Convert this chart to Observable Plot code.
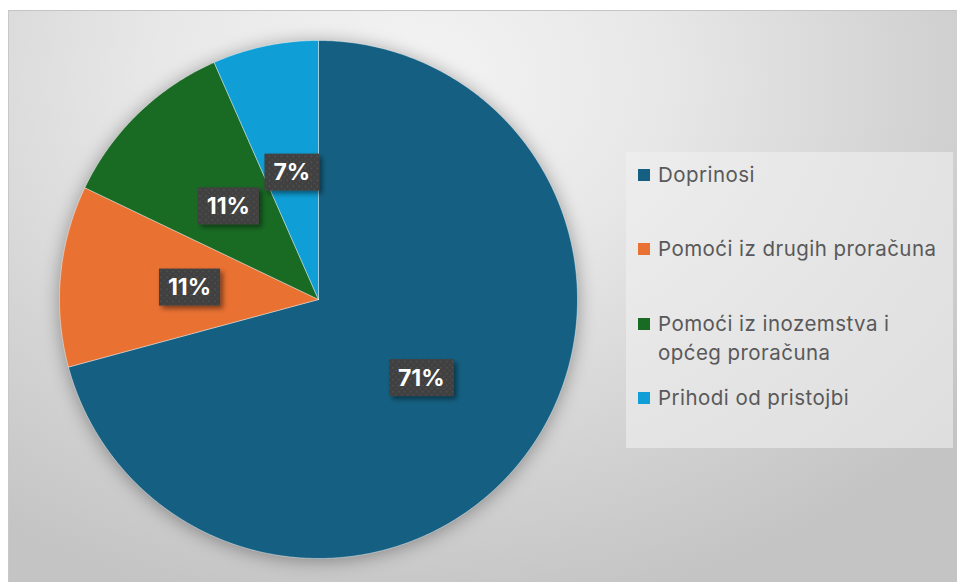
<!DOCTYPE html>
<html>
<head>
<meta charset="utf-8">
<script src="https://cdn.jsdelivr.net/npm/d3@7"></script>
<script src="https://cdn.jsdelivr.net/npm/@observablehq/plot@0.6"></script>
<style>
  html, body { margin: 0; padding: 0; background: #ffffff; width: 957px; height: 582px; overflow: hidden; }
  #frame {
    position: absolute; left: 8px; top: 10px; width: 949px; height: 572px;
    background: radial-gradient(ellipse 75% 95% at 42% 12%, #f4f4f4 0%, #e8e8e8 35%, #d4d4d4 70%, #c4c4c4 100%);
    border-top: 1px solid #c4c4c4; border-left: 1px solid #c8c8c8;
    box-sizing: border-box;
  }
  #chart { position: absolute; left: 0; top: 0; }
  #chart svg { background: transparent !important; }
  .slices { filter: drop-shadow(0px 2px 9px rgba(0,0,0,0.35)); }
  #legend {
    position: absolute; left: 626px; top: 152px; width: 327px; height: 296px;
    background: rgba(240,240,240,0.6);
    font-family: "Inter", "Open Sans", sans-serif; font-size: 20.5px; letter-spacing: 0.45px; color: #595959;
  }
  .item { position: absolute; left: 12px; display: flex; align-items: flex-start; }
  .sw { width: 12px; height: 12px; margin-right: 8px; flex: none; }
  .lbl { line-height: 29px; white-space: nowrap; }
</style>
</head>
<body>
<div id="frame"></div>
<div id="chart"></div>
<div id="legend"></div>
<script>
const categories = ["Doprinosi", "Pomoći iz drugih proračuna", "Pomoći iz inozemstva i općeg proračuna", "Prihodi od pristojbi"];
const legendLines = [["Doprinosi"], ["Pomoći iz drugih proračuna"], ["Pomoći iz inozemstva i", "općeg proračuna"], ["Prihodi od pristojbi"]];
const values = [70.8, 11.3, 11.3, 6.6];
const colors = ["#156082", "#E97132", "#196B24", "#0F9ED5"];

const total = d3.sum(values);
const slicePts = [];
const labelData = [];
let acc = 0;
categories.forEach((c, i) => {
  const a0 = acc / total * 2 * Math.PI;
  acc += values[i];
  const a1 = acc / total * 2 * Math.PI;
  slicePts.push({cat: c, x: 0, y: 0});
  const n = Math.max(2, Math.ceil((a1 - a0) / (Math.PI / 360)));
  for (let k = 0; k <= n; k++) {
    const a = a0 + (a1 - a0) * k / n;
    slicePts.push({cat: c, x: Math.sin(a), y: Math.cos(a)});
  }
  slicePts.push({cat: c, x: 0, y: 0});
  const am = (a0 + a1) / 2;
  labelData.push({cat: c, x: 0.5 * Math.sin(am), y: 0.5 * Math.cos(am), text: Math.round(values[i] / total * 100) + "%"});
});

const chart = Plot.plot({
  width: 957, height: 582,
  marginLeft: 59, marginRight: 380, marginTop: 40, marginBottom: 24,
  x: {domain: [-1, 1], axis: null},
  y: {domain: [-1, 1], axis: null},
  color: {domain: categories, range: colors},
  style: {background: "transparent", overflow: "visible"},
  marks: [
    Plot.line(slicePts, {x: "x", y: "y", z: "cat", fill: "cat", stroke: "#ffffff", strokeWidth: 0.6, strokeOpacity: 0.7, curve: "linear", className: "slices"}),
    Plot.text(labelData, {x: "x", y: "y", text: "text", fill: "#ffffff", fontSize: 23, fontWeight: "bold", fontFamily: "Inter, 'Open Sans', sans-serif", className: "pct"})
  ]
});
document.getElementById("chart").appendChild(chart);

// dotted dark label boxes behind percentage labels
const svgNS = "http://www.w3.org/2000/svg";
const defs = document.createElementNS(svgNS, "defs");
defs.innerHTML = `
  <pattern id="dots" width="6" height="6" patternUnits="userSpaceOnUse">
    <rect width="6" height="6" fill="#404040"/>
    <circle cx="1.5" cy="1.5" r="0.9" fill="#555555"/>
    <circle cx="4.5" cy="4.5" r="0.9" fill="#4d4d4d"/>
  </pattern>
  <filter id="boxshadow" x="-30%" y="-30%" width="170%" height="180%">
    <feDropShadow dx="3" dy="3" stdDeviation="2.5" flood-color="#000" flood-opacity="0.45"/>
  </filter>`;
chart.insertBefore(defs, chart.firstChild);
chart.querySelectorAll(".pct text").forEach(t => {
  const b = t.getBBox();
  const r = document.createElementNS(svgNS, "rect");
  const padX = 9, h = 37;
  r.setAttribute("x", b.x - padX);
  r.setAttribute("y", b.y + b.height / 2 - h / 2);
  r.setAttribute("width", b.width + 2 * padX);
  r.setAttribute("height", h);
  const tr = t.getAttribute("transform");
  if (tr) r.setAttribute("transform", tr);
  r.setAttribute("fill", "url(#dots)");
  r.setAttribute("filter", "url(#boxshadow)");
  r.setAttribute("stroke", "none");
  t.parentNode.insertBefore(r, t);
});

// legend
const legend = document.getElementById("legend");
const tops = [8, 82, 157, 231];
categories.forEach((c, i) => {
  const it = document.createElement("div");
  it.className = "item";
  it.style.top = tops[i] + "px";
  const sw = document.createElement("div");
  sw.className = "sw";
  sw.style.background = colors[i];
  sw.style.marginTop = "8.5px";
  const lb = document.createElement("div");
  lb.className = "lbl";
  lb.innerHTML = legendLines[i].join("<br>");
  it.appendChild(sw); it.appendChild(lb);
  legend.appendChild(it);
});
</script>
</body>
</html>
